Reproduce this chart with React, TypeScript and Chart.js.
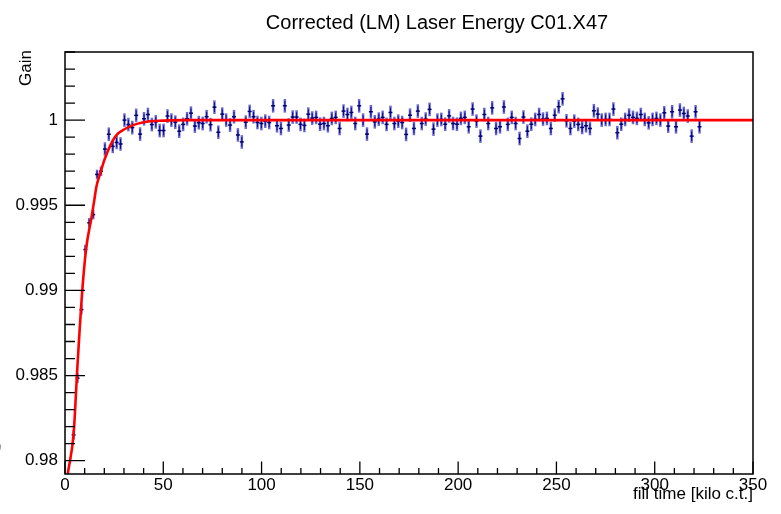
import React, { useEffect, useRef } from "react";
import { Chart, registerables } from "chart.js";

Chart.register(...registerables);

const FONT = '"Liberation Sans", Arial, Helvetica, sans-serif';

const TITLE = "Corrected (LM) Laser Energy C01.X47";
const X_TITLE = "fill time [kilo c.t.]";
const Y_TITLE = "Gain";

const X_MIN = 0;
const X_MAX = 350;
const Y_MIN = 0.97922;
const Y_MAX = 1.004;

const xTickValues = [0, 50, 100, 150, 200, 250, 300, 350];
const xTickLabels = ["0", "50", "100", "150", "200", "250", "300", "350"];
const yTickValues = [0.98, 0.985, 0.99, 0.995, 1];
const yTickLabels = ["0.98", "0.985", "0.99", "0.995", "1"];
const X_MINOR_STEP = 10;
const Y_MINOR_STEP = 0.001;

// bin centres: first visible bin and bin width (kilo c.t.)
const BIN_FIRST = 4.38;
const BIN_STEP = 1.99;

// measured gain per bin (rising part)
const gainRise = [
  0.98152, 0.98485, 0.98887, 0.9924, 0.99397, 0.99445, 0.99681, 0.997,
  0.9983, 0.99917, 0.99846, 0.99869, 0.9986,
];
// measured gain per bin (plateau)
const gainFlat = [
  1.0, 0.99974, 0.99956, 1.00028, 0.99918, 1.00008, 1.00033, 0.99974, 0.9999, 0.99939,
  0.99939, 1.00024, 1.0, 0.99988, 0.99935, 0.99975, 1.00008, 1.00041, 0.99965, 0.99985,
  0.9998, 1.0002, 0.99973, 1.00076, 0.99929, 1.00035, 1.0, 0.99971, 1.0002, 0.99913,
  0.99872, 0.99988, 1.00051, 1.0002, 0.99986, 0.9998, 0.99994, 0.99986, 1.00084, 0.99967,
  0.99951, 1.00084, 0.99971, 1.00018, 1.00018, 0.99975, 0.99969, 1.00035, 1.00012, 1.00016,
  0.99976, 0.9998, 0.99967, 1.0001, 1.00016, 0.99951, 1.00053, 1.00033, 1.00045, 0.9998,
  1.00084, 1.0, 0.99918, 1.00049, 0.9999, 1.00006, 1.00016, 0.99975, 1.00045, 0.9998,
  0.99994, 0.99986, 0.99916, 1.00029, 0.99951, 1.00053, 0.9998, 1.00006, 1.00063, 0.99947,
  1.0, 1.00004, 0.99976, 1.00025, 0.9998, 0.99976, 1.0001, 1.00016, 0.99961, 1.00065,
  0.99994, 0.99906, 1.00033, 0.9998, 1.00072, 0.99951, 0.99961, 1.00077, 0.99975, 1.00016,
  0.9998, 0.99892, 1.00018, 0.99935, 0.99976, 1.00004, 1.00033, 1.00006, 1.0001, 0.99951,
  1.00029, 1.00079, 1.00125, 0.99996, 0.99951, 0.99994, 0.99975, 0.99957, 0.99967, 0.99951,
  1.00055, 1.00035, 1.0, 1.00004, 1.00004, 1.00065, 0.99926, 0.99976, 1.00004, 1.00029,
  1.00016, 1.0001, 1.00033, 1.00004, 0.99984, 1.00004, 1.0001, 1.0, 1.00043, 0.99965,
  1.00049, 0.99961, 1.00059, 1.00039, 1.00024, 0.99906, 1.00049, 0.99961,
];
const ERR_RISE = 0.00028;
const ERR_FLAT = 0.0004;
const RISE_SMALL_ERR_BINS = 8;

// fit curve
const fitX = [0, 1.5, 4.4, 6.3, 8.8, 10.7, 13.5, 14.9, 16, 18, 20, 23, 26, 30, 35, 40, 50, 60, 350];
const fitY = [
  0.9781, 0.9793, 0.9816, 0.9855, 0.99, 0.9924, 0.9943, 0.9953, 0.9961, 0.9969,
  0.99765, 0.9985, 0.9991, 0.99945, 0.99972, 0.99988, 0.99997, 1.0, 1.0,
];

export default function App() {
  const ref = useRef<HTMLCanvasElement>(null);

  useEffect(() => {
    const canvas = ref.current;
    if (!canvas) return;
    const gain = [...gainRise, ...gainFlat];
    const points = gain.map((v, i) => ({ x: BIN_FIRST + i * BIN_STEP, y: v }));
    const errs = gain.map((_, i) => (i < RISE_SMALL_ERR_BINS ? ERR_RISE : ERR_FLAT));
    const fit = fitX.map((x, i) => ({ x, y: fitY[i] }));

    const rootStyle = {
      id: "rootStyle",
      beforeDatasetsDraw(chart: any) {
        const { ctx, chartArea: a } = chart;
        const xs = chart.scales.x;
        const ys = chart.scales.y;
        ctx.save();
        ctx.beginPath();
        ctx.rect(a.left, a.top, a.right - a.left, a.bottom - a.top);
        ctx.clip();
        points.forEach((p, i) => {
          const e = errs[i];
          const px = xs.getPixelForValue(p.x);
          const yt = ys.getPixelForValue(p.y + e);
          const yb = ys.getPixelForValue(p.y - e);
          ctx.strokeStyle = "rgba(70,70,195,0.8)";
          ctx.lineWidth = 2.5;
          ctx.beginPath();
          ctx.moveTo(px, yt);
          ctx.lineTo(px, yb);
          ctx.stroke();
          const yt2 = ys.getPixelForValue(p.y + e * 0.7);
          const yb2 = ys.getPixelForValue(p.y - e * 0.7);
          ctx.strokeStyle = "#0a0a8c";
          ctx.lineWidth = 1;
          ctx.beginPath();
          ctx.moveTo(px, yt2);
          ctx.lineTo(px, yb2);
          ctx.stroke();
        });
        ctx.restore();
      },
      afterDraw(chart: any) {
        const { ctx, chartArea: a } = chart;
        const xs = chart.scales.x;
        const ys = chart.scales.y;
        ctx.save();
        ctx.strokeStyle = "#000";
        ctx.lineWidth = 1.5;
        ctx.strokeRect(a.left, a.top, a.right - a.left, a.bottom - a.top);
        // y ticks
        ctx.lineWidth = 1.3;
        ctx.beginPath();
        for (let v = 0.98; v <= Y_MAX + 1e-9; v += Y_MINOR_STEP) {
          const py = ys.getPixelForValue(v);
          const major = yTickValues.some((t) => Math.abs(t - v) < 1e-7);
          ctx.moveTo(a.left, py);
          ctx.lineTo(a.left + (major ? 20 : 10), py);
        }
        // x ticks
        for (let v = X_MIN; v <= X_MAX + 1e-9; v += X_MINOR_STEP) {
          const px = xs.getPixelForValue(v);
          const major = xTickValues.some((t) => Math.abs(t - v) < 1e-7);
          ctx.moveTo(px, a.bottom);
          ctx.lineTo(px, a.bottom - (major ? 12.5 : 6));
        }
        ctx.stroke();
        // titles
        ctx.fillStyle = "#000";
        ctx.font = `20px ${FONT}`;
        ctx.textAlign = "center";
        ctx.textBaseline = "alphabetic";
        ctx.fillText(TITLE, 437, 29);
        ctx.font = `17px ${FONT}`;
        ctx.textAlign = "right";
        ctx.fillText(X_TITLE, a.right, 499);
        ctx.save();
        ctx.translate(31, 50);
        ctx.rotate(-Math.PI / 2);
        ctx.textAlign = "right";
        ctx.fillText(Y_TITLE, 0, 0);
        ctx.restore();
        ctx.font = `34px ${FONT}`;
        ctx.textAlign = "left";
        ctx.fillText(",", -6, 448);
        ctx.restore();
      },
    };

    const chart = new Chart(canvas, {
      type: "scatter",
      data: {
        datasets: [
          {
            type: "line",
            data: fit,
            borderColor: "#ff0000",
            borderWidth: 2.6,
            pointRadius: 0,
            cubicInterpolationMode: "monotone",
            fill: false,
          } as any,
          {
            type: "scatter",
            data: points,
            pointStyle: "line",
            pointRadius: 2,
            borderColor: "#000070",
            backgroundColor: "#000070",
            borderWidth: 1.5,
          } as any,
        ],
      },
      options: {
        responsive: false,
        maintainAspectRatio: false,
        animation: false,
        events: [],
        layout: { padding: { top: 52, right: 28, bottom: 0, left: 0 } },
        plugins: {
          legend: { display: false },
          tooltip: { enabled: false },
          title: { display: false },
        },
        scales: {
          x: {
            type: "linear",
            min: X_MIN,
            max: X_MAX,
            grid: { display: false, drawTicks: false },
            border: { display: false },
            ticks: {
              color: "#000",
              font: { family: FONT, size: 17 },
              padding: 1,
              maxRotation: 0,
              autoSkip: false,
              callback: (v: any) => {
                const i = xTickValues.findIndex((t) => Math.abs(t - v) < 1e-7);
                return i >= 0 ? xTickLabels[i] : "";
              },
            },
            afterBuildTicks: (s: any) => {
              s.ticks = xTickValues.map((v) => ({ value: v }));
            },
            afterFit: (s: any) => {
              s.height = 40;
            },
          },
          y: {
            type: "linear",
            min: Y_MIN,
            max: Y_MAX,
            grid: { display: false, drawTicks: false },
            border: { display: false },
            ticks: {
              color: "#000",
              font: { family: FONT, size: 17 },
              padding: 7,
              autoSkip: false,
              callback: (v: any) => {
                const i = yTickValues.findIndex((t) => Math.abs(t - v) < 1e-7);
                return i >= 0 ? yTickLabels[i] : "";
              },
            },
            afterBuildTicks: (s: any) => {
              s.ticks = yTickValues.map((v) => ({ value: v }));
            },
            afterFit: (s: any) => {
              s.width = 65;
            },
          },
        },
      },
      plugins: [rootStyle],
    });
    return () => chart.destroy();
  }, []);

  return (
    <div style={{ position: "fixed", left: 0, top: 0, width: 781, height: 514, background: "#fff" }}>
      <canvas ref={ref} width={781} height={514} style={{ display: "block" }} />
    </div>
  );
}
